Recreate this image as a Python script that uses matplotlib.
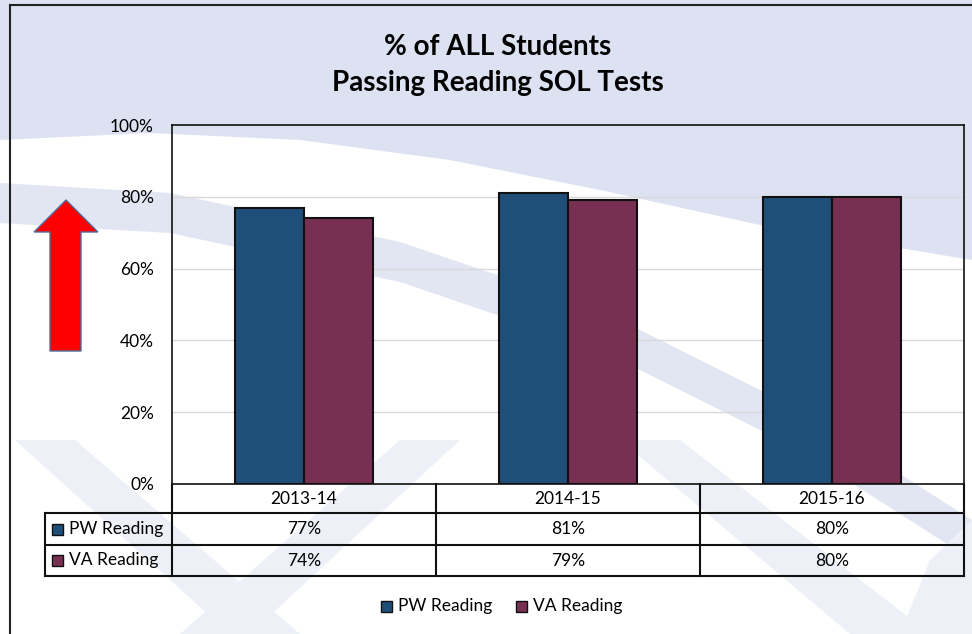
import matplotlib
matplotlib.use("Agg")
import matplotlib.pyplot as plt
from matplotlib.patches import Polygon, Rectangle
import numpy as np

plt.rcParams["font.family"] = ["Lato", "DejaVu Sans"]

# data
kategori = ["2013-14", "2014-15", "2015-16"]
seri = ["PW Reading", "VA Reading"]
pw_reading = [77, 81, 80]
va_reading = [74, 79, 80]
WARNA = {"PW Reading": "#1f4e79", "VA Reading": "#772f52"}

W, H = 972, 634
fig = plt.figure(figsize=(W / 100, H / 100), dpi=100)

# latar belakang (watermark) di koordinat piksel
bg = fig.add_axes([0, 0, 1, 1], zorder=0)
bg.set_xlim(0, W)
bg.set_ylim(H, 0)
bg.axis("off")
LAV = "#dce2f1"
LAV_BAND = "#e2e6f3"
LAV2 = "#eef0f8"

atas = [(0, 0), (W, 0), (W, 260), (760, 225), (600, 190), (450, 160),
        (300, 140), (150, 133), (0, 140)]
bg.add_patch(Polygon(atas, closed=True, fc=LAV, ec="none"))

xs = np.array([0, 170, 400, 600, 800, 972])
yc = np.array([203, 213, 262, 330, 430, 540])
band = list(zip(xs, yc - 20)) + list(zip(xs[::-1], yc[::-1] + 20))
bg.add_patch(Polygon(band, closed=True, fc=LAV_BAND, ec="none"))

for pts in ([(15, 440), (75, 440), (300, 634), (230, 634)],
            [(400, 440), (460, 440), (250, 634), (180, 634)],
            [(620, 440), (680, 440), (930, 634), (850, 634)],
            [(930, 560), (972, 520), (972, 634), (900, 634)]):
    bg.add_patch(Polygon(pts, closed=True, fc=LAV2, ec="none"))

# bingkai luar
bg.plot([10, W], [5, 5], color="#222222", lw=1.5)
bg.plot([10, 10], [5, H], color="#222222", lw=1.5)

# panah merah
panah = [(66, 200), (98, 232), (81, 232), (81, 351), (50, 351), (50, 232), (34, 232)]
bg.add_patch(Polygon(panah, closed=True, fc="#ff0000", ec="#4f6f9f", lw=1))

# judul
bg.text(498, 47, "% of ALL Students", ha="center", va="center",
        fontsize=20, fontweight="bold")
bg.text(498, 83, "Passing Reading SOL Tests", ha="center", va="center",
        fontsize=20, fontweight="bold")

# grafik batang
L, R, T, B = 172, 964, 125, 484
ax = fig.add_axes([L / W, 1 - B / H, (R - L) / W, (B - T) / H], zorder=1)
ax.patch.set_alpha(0)
x = np.arange(len(kategori))
lebar = 0.262
ax.bar(x - lebar / 2, pw_reading, lebar, color=WARNA["PW Reading"],
       edgecolor="#111111", linewidth=1.5, zorder=3)
ax.bar(x + lebar / 2, va_reading, lebar, color=WARNA["VA Reading"],
       edgecolor="#111111", linewidth=1.5, zorder=3)
ax.set_xlim(-0.5, len(kategori) - 0.5)
ax.set_ylim(0, 100)
ax.set_yticks(range(0, 101, 20))
ax.set_yticklabels([f"{v}%" for v in range(0, 101, 20)], fontsize=12.5)
ax.tick_params(axis="y", length=0, pad=13)
ax.set_xticks([])
ax.grid(axis="y", color="#d9d9d9", lw=1, zorder=0)
for s in ax.spines.values():
    s.set_color("#111111")
    s.set_linewidth(1.2)

# tabel data
kol = np.linspace(L, R, len(kategori) + 1)
baris = [484, 513, 545, 576]
lw = 1.5
c = "#111111"
for xx in kol:
    bg.plot([xx, xx], [B, baris[-1]], color=c, lw=lw)
for yy in baris[1:]:
    bg.plot([45, R], [yy, yy], color=c, lw=lw)
bg.plot([45, 45], [baris[1], baris[3]], color=c, lw=lw)
for i, k in enumerate(kategori):
    bg.text((kol[i] + kol[i + 1]) / 2, (baris[0] + baris[1]) / 2, k,
            ha="center", va="center", fontsize=12.5)
for j, (nama, nilai) in enumerate(zip(seri, [pw_reading, va_reading])):
    yy = (baris[j + 1] + baris[j + 2]) / 2
    bg.add_patch(Rectangle((52, yy - 5.5), 11, 11, fc=WARNA[nama], ec="#111111", lw=1))
    bg.text(69, yy, nama, ha="left", va="center", fontsize=12.5)
    for i, v in enumerate(nilai):
        bg.text((kol[i] + kol[i + 1]) / 2, yy, f"{v}%", ha="center",
                va="center", fontsize=12.5)

# legenda bawah
lx = [381, 516]
for xx, nama in zip(lx, seri):
    bg.add_patch(Rectangle((xx, 601), 11, 11, fc=WARNA[nama], ec="#111111", lw=1))
    bg.text(xx + 17, 606.5, nama, ha="left", va="center", fontsize=12.5)

fig.savefig("out.png", dpi=100)
